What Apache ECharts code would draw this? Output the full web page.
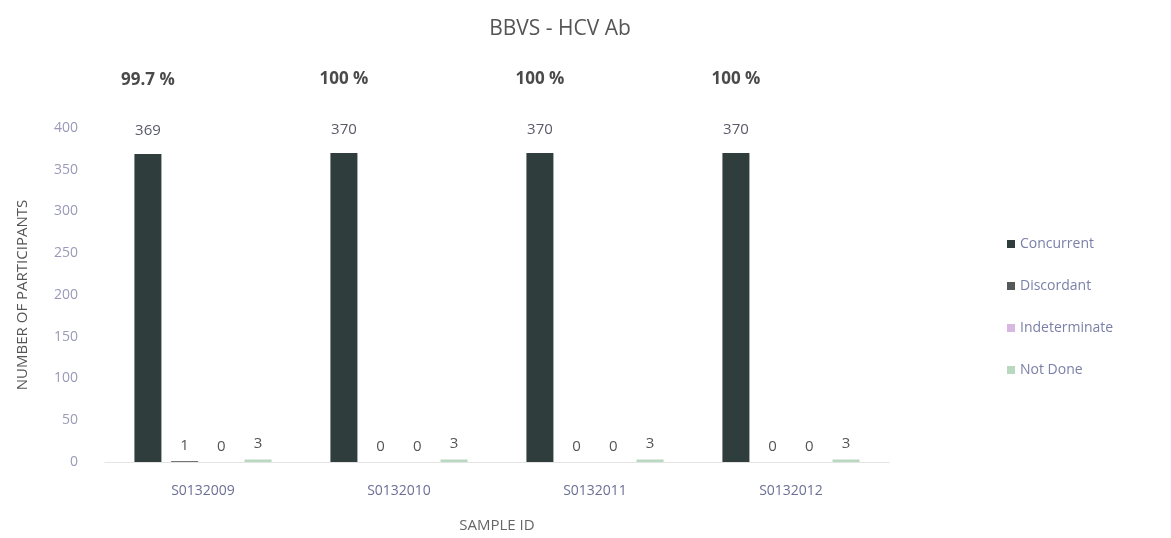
<!DOCTYPE html>
<html>
<head>
<meta charset="utf-8">
<script src="https://cdn.jsdelivr.net/npm/echarts@6/dist/echarts.min.js"></script>
<style>html,body{margin:0;padding:0;background:#fff;}#c{width:1171px;height:538px;}</style>
</head>
<body>
<div id="c"></div>
<script>
var categories = ['S0132009', 'S0132010', 'S0132011', 'S0132012'];
var concurrent = [369, 370, 370, 370];
var discordant = [1, 0, 0, 0];
var indeterminate = [0, 0, 0, 0];
var notDone = [3, 3, 3, 3];
var percentages = ['99.7 %', '100 %', '100 %', '100 %'];
var yTicks = { min: 0, max: 400, interval: 50 };

var font = 'Open Sans';
var chart = echarts.init(document.getElementById('c'));
function valLabel(color) {
  return { show: true, position: 'top', distance: 8, color: color || '#555', fontSize: 15, fontFamily: font };
}
chart.setOption({
  animation: false,
  title: { text: 'BBVS - HCV Ab', left: 555, top: 14, textAlign: 'center',
    textStyle: { fontFamily: font, fontSize: 21, fontWeight: 'normal', color: '#555' } },
  legend: { orient: 'vertical', left: 1002, top: 232, itemWidth: 8, itemHeight: 8, itemGap: 28,
    icon: 'rect', textStyle: { fontFamily: font, fontSize: 14, color: '#7a80a8' },
    data: ['Concurrent', 'Discordant', 'Indeterminate', 'Not Done'] },
  grid: { left: 105, right: 282, top: 128, bottom: 75 },
  xAxis: { type: 'category', data: categories, name: 'SAMPLE ID', nameLocation: 'middle', nameGap: 56,
    nameTextStyle: { fontFamily: font, fontSize: 15, color: '#666' },
    axisTick: { show: false }, axisLine: { lineStyle: { color: '#e4e4e4' } },
    axisLabel: { margin: 22, fontFamily: font, fontSize: 14, color: '#6a6f95' } },
  yAxis: { type: 'value', min: yTicks.min, max: yTicks.max, interval: yTicks.interval,
    name: 'NUMBER OF PARTICIPANTS', nameLocation: 'middle', nameGap: 75,
    nameTextStyle: { fontFamily: font, fontSize: 15, color: '#555' },
    splitLine: { show: false }, axisLine: { show: false }, axisTick: { show: false },
    axisLabel: { margin: 27, fontFamily: font, fontSize: 14, color: '#9a9ab8' } },
  series: [
    { name: 'Concurrent', type: 'bar', data: concurrent, barWidth: 27, barGap: '36%',
      itemStyle: { color: '#2f3d3c' },
      label: { show: true, position: 'top', distance: 13, fontFamily: font,
        formatter: function (p) { return '{p|' + percentages[p.dataIndex] + '}\n{v|' + p.value + '}'; },
        rich: { p: { fontSize: 17, fontWeight: 'bold', color: '#4a4a4a', lineHeight: 82, fontFamily: font },
                v: { fontSize: 15, color: '#5a5a6a', lineHeight: 20, fontFamily: font } } } },
    { name: 'Discordant', type: 'bar', data: discordant, barWidth: 27, itemStyle: { color: '#555a58' }, label: valLabel() },
    { name: 'Indeterminate', type: 'bar', data: indeterminate, barWidth: 27, itemStyle: { color: '#d8b8e0' }, label: valLabel() },
    { name: 'Not Done', type: 'bar', data: notDone, barWidth: 27, itemStyle: { color: '#b8d8c0' }, label: valLabel() }
  ]
});
</script>
</body>
</html>
